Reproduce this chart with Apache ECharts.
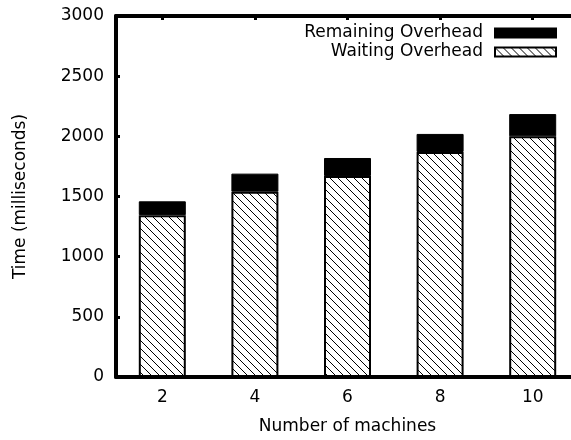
<!DOCTYPE html>
<html>
<head>
<meta charset="utf-8">
<script src="https://cdn.jsdelivr.net/npm/echarts@6/dist/echarts.min.js"></script>
<style>
  html, body { margin: 0; padding: 0; background: #fff; overflow: hidden; }
  /* the frame's right edge runs just past the visible window */
  #chart { width: 582px; height: 440px; }
</style>
</head>
<body>
<div id="chart"></div>
<script>
// Machine counts on the x axis
const machines = ['2', '4', '6', '8', '10'];
// Time spent waiting (ms), bottom part of each bar
const waitingOverhead = [1345, 1540, 1670, 1870, 2000];
// Remaining overhead (ms), stacked on top
const remainingOverhead = [115, 150, 150, 150, 185];
// Y axis range and step
const yMin = 0;
const yMax = 3000;
const yStep = 500;

const FONT = 'DejaVu Sans';

// Diagonal "\" hatch tile used for the waiting bars
function hatchTile() {
  const size = 8;
  const c = document.createElement('canvas');
  c.width = size;
  c.height = size;
  const g = c.getContext('2d');
  g.fillStyle = '#ffffff';
  g.fillRect(0, 0, size, size);
  g.strokeStyle = '#000000';
  g.lineWidth = 1;
  g.beginPath();
  g.moveTo(-1, -1); g.lineTo(size + 1, size + 1);
  g.moveTo(size - 1, -1); g.lineTo(size + 1, 1);
  g.moveTo(-1, size - 1); g.lineTo(1, size + 1);
  g.stroke();
  return c;
}

const chart = echarts.init(document.getElementById('chart'), null, { renderer: 'canvas' });

const axisLine = { show: true, lineStyle: { color: '#000', width: 4 } };
const tick = { show: true, inside: true, length: 4, lineStyle: { color: '#000', width: 3 } };

chart.setOption({
  animation: false,
  backgroundColor: '#fff',
  textStyle: { fontFamily: FONT },
  grid: { left: 116, top: 16, width: 463, height: 365, containLabel: false },
  legend: {
    orient: 'vertical',
    align: 'right',
    icon: 'rect',
    right: 20,
    top: 19,
    itemWidth: 61,
    itemHeight: 9,
    itemGap: 1,
    selectedMode: false,
    data: ['Remaining Overhead', 'Waiting Overhead'],
    textStyle: { fontFamily: FONT, fontSize: 17, color: '#000', lineHeight: 18, padding: [0, 7, 0, 0] }
  },
  xAxis: [
    {
      type: 'category',
      data: machines,
      position: 'bottom',
      axisLine: axisLine,
      axisTick: { show: false },
      axisLabel: { fontFamily: FONT, fontSize: 17, color: '#000', margin: 12 },
      name: 'Number of machines',
      nameLocation: 'middle',
      nameGap: 41,
      nameTextStyle: { fontFamily: FONT, fontSize: 17, color: '#000' }
    },
    {
      type: 'category',
      data: machines,
      position: 'top',
      axisLine: axisLine,
      axisTick: Object.assign({ alignWithLabel: true }, tick),
      axisLabel: { show: false }
    }
  ],
  yAxis: {
    type: 'value',
    min: yMin,
    max: yMax,
    interval: yStep,
    axisLine: axisLine,
    axisTick: tick,
    splitLine: { show: false },
    axisLabel: {
      fontFamily: FONT, fontSize: 17, color: '#000', margin: 12,
      formatter: function (v) { return String(v); }
    },
    name: 'Time (milliseconds)',
    nameLocation: 'middle',
    nameGap: 87,
    nameTextStyle: { fontFamily: FONT, fontSize: 17, color: '#000' }
  },
  series: [
    {
      name: 'Waiting Overhead',
      type: 'bar',
      stack: 'total',
      barWidth: 47,
      data: waitingOverhead,
      itemStyle: {
        color: { image: hatchTile(), repeat: 'repeat' },
        borderColor: '#000',
        borderWidth: 2
      }
    },
    {
      name: 'Remaining Overhead',
      type: 'bar',
      stack: 'total',
      barWidth: 47,
      data: remainingOverhead,
      itemStyle: { color: '#000', borderColor: '#000', borderWidth: 1 }
    }
  ]
});
</script>
</body>
</html>
